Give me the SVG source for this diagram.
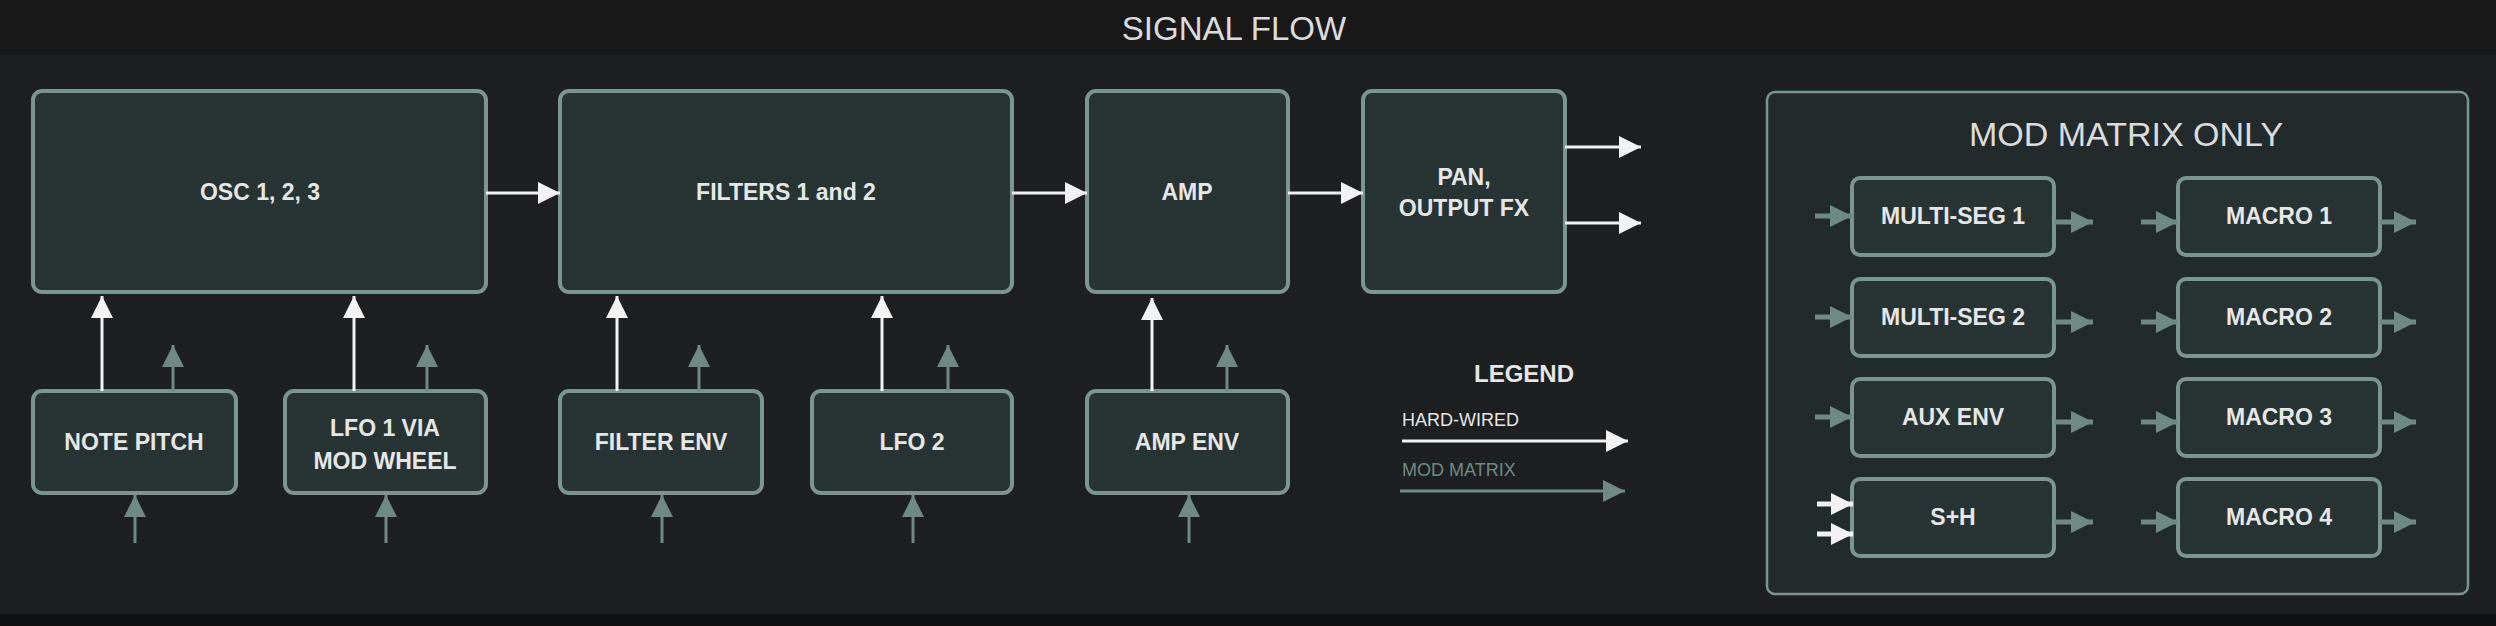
<svg xmlns="http://www.w3.org/2000/svg" width="2496" height="626" viewBox="0 0 2496 626">
<style>
.box{fill:#283334;stroke:#7b958f;stroke-width:4}
.t{font-family:"Liberation Sans",Arial,sans-serif;font-weight:bold;font-size:23px;fill:#e6e6e6;text-anchor:middle;dominant-baseline:central}
.hw{stroke:#f2f2f2;stroke-width:3;fill:none;marker-end:url(#wh)}
.mm{stroke:#6f8a85;stroke-width:3;fill:none;marker-end:url(#gh)}
.mmb{stroke:#6f8a85;stroke-width:5;fill:none;marker-end:url(#gh)}
</style>
<defs>
<marker id="wh" markerUnits="userSpaceOnUse" markerWidth="24" markerHeight="22" refX="22" refY="11" orient="auto"><path d="M0,0 L22,11 L0,22 z" fill="#f2f2f2"/></marker>
<marker id="gh" markerUnits="userSpaceOnUse" markerWidth="24" markerHeight="22" refX="22" refY="11" orient="auto"><path d="M0,0 L22,11 L0,22 z" fill="#6f8a85"/></marker>
</defs>
<rect width="2496" height="626" fill="#1e1f20"/>
<rect width="2496" height="55" fill="#191919"/>
<rect y="614" width="2496" height="12" fill="#111"/>
<text x="1234" y="28" style="font-family:'Liberation Sans',Arial,sans-serif;font-size:33px;fill:#dcdcdc;text-anchor:middle;dominant-baseline:central">SIGNAL FLOW</text>

<g id="osc"><rect class="box" x="33" y="91" width="453" height="201" rx="9"/><text class="t" x="260" y="192">OSC 1, 2, 3</text></g>
<g id="filters"><rect class="box" x="560" y="91" width="452" height="201" rx="9"/><text class="t" x="786" y="192">FILTERS 1 and 2</text></g>
<g id="amp"><rect class="box" x="1087" y="91" width="201" height="201" rx="9"/><text class="t" x="1187" y="192">AMP</text></g>
<g id="pan"><rect class="box" x="1363" y="91" width="202" height="201" rx="9"/><text class="t" x="1464" y="177">PAN,</text><text class="t" x="1464" y="208">OUTPUT FX</text></g>

<g id="notepitch"><rect class="box" x="33" y="391" width="203" height="102" rx="9"/><text class="t" x="134" y="442">NOTE PITCH</text></g>
<g id="lfo1"><rect class="box" x="285" y="391" width="201" height="102" rx="9"/><text class="t" x="385" y="428">LFO 1 VIA</text><text class="t" x="385" y="461">MOD WHEEL</text></g>
<g id="filterenv"><rect class="box" x="560" y="391" width="202" height="102" rx="9"/><text class="t" x="661" y="442">FILTER ENV</text></g>
<g id="lfo2"><rect class="box" x="812" y="391" width="200" height="102" rx="9"/><text class="t" x="912" y="442">LFO 2</text></g>
<g id="ampenv"><rect class="box" x="1087" y="391" width="201" height="102" rx="9"/><text class="t" x="1187" y="442">AMP ENV</text></g>

<g id="legend">
<text x="1524" y="373" class="t" style="font-size:24px">LEGEND</text>
<text x="1402" y="420" style="font-family:'Liberation Sans',Arial,sans-serif;font-size:18px;fill:#e6e6e6;dominant-baseline:central">HARD-WIRED</text>
<text x="1402" y="470" style="font-family:'Liberation Sans',Arial,sans-serif;font-size:18px;fill:#6f8a85;dominant-baseline:central">MOD MATRIX</text>
</g>

<g id="modmatrix">
<rect x="1767" y="92" width="701" height="502" rx="8" fill="#232a2c" stroke="#7b958f" stroke-width="2.5"/>
<text x="2126" y="134" style="font-family:'Liberation Sans',Arial,sans-serif;font-size:34px;fill:#dcdcdc;text-anchor:middle;dominant-baseline:central">MOD MATRIX ONLY</text>
</g>
<g id="ms1"><rect class="box" x="1852" y="178" width="202" height="77" rx="8"/><text class="t" x="1953" y="216">MULTI-SEG 1</text></g>
<g id="ms2"><rect class="box" x="1852" y="279" width="202" height="77" rx="8"/><text class="t" x="1953" y="317">MULTI-SEG 2</text></g>
<g id="auxenv"><rect class="box" x="1852" y="379" width="202" height="77" rx="8"/><text class="t" x="1953" y="417">AUX ENV</text></g>
<g id="sh"><rect class="box" x="1852" y="479" width="202" height="77" rx="8"/><text class="t" x="1953" y="517">S+H</text></g>
<g id="m1"><rect class="box" x="2178" y="178" width="202" height="77" rx="8"/><text class="t" x="2279" y="216">MACRO 1</text></g>
<g id="m2"><rect class="box" x="2178" y="279" width="202" height="77" rx="8"/><text class="t" x="2279" y="317">MACRO 2</text></g>
<g id="m3"><rect class="box" x="2178" y="379" width="202" height="77" rx="8"/><text class="t" x="2279" y="417">MACRO 3</text></g>
<g id="m4"><rect class="box" x="2178" y="479" width="202" height="77" rx="8"/><text class="t" x="2279" y="517">MACRO 4</text></g>

<g id="connectors">
<path class="hw" d="M486,193 H560"/>
<path class="hw" d="M1012,193 H1087"/>
<path class="hw" d="M1288,193 H1363"/>
<path class="hw" d="M1565,147 H1641"/>
<path class="hw" d="M1565,223 H1641"/>
<path class="hw" d="M102,391 V296"/>
<path class="hw" d="M354,391 V296"/>
<path class="hw" d="M617,391 V296"/>
<path class="hw" d="M882,391 V296"/>
<path class="hw" d="M1152,391 V298"/>
<path class="mm" d="M173,391 V345"/>
<path class="mm" d="M427,391 V345"/>
<path class="mm" d="M699,391 V345"/>
<path class="mm" d="M948,391 V345"/>
<path class="mm" d="M1227,391 V345"/>
<path class="mm" d="M135,543 V495"/>
<path class="mm" d="M386,543 V495"/>
<path class="mm" d="M662,543 V495"/>
<path class="mm" d="M913,543 V495"/>
<path class="mm" d="M1189,543 V495"/>
<path class="hw" d="M1402,441 H1628"/>
<path class="mm" d="M1400,491 H1625"/>
<path class="mmb" d="M1815,216 H1852"/>
<path class="mmb" d="M1815,317 H1852"/>
<path class="mmb" d="M1815,417 H1852"/>
<path class="hw" style="stroke-width:5" d="M1817,504 H1853"/>
<path class="hw" style="stroke-width:5" d="M1817,534 H1853"/>
<path class="mmb" d="M2054,222 H2093"/>
<path class="mmb" d="M2054,322 H2093"/>
<path class="mmb" d="M2054,422 H2093"/>
<path class="mmb" d="M2054,522 H2093"/>
<path class="mmb" d="M2141,222 H2178"/>
<path class="mmb" d="M2141,322 H2178"/>
<path class="mmb" d="M2141,422 H2178"/>
<path class="mmb" d="M2141,522 H2178"/>
<path class="mmb" d="M2380,222 H2416"/>
<path class="mmb" d="M2380,322 H2416"/>
<path class="mmb" d="M2380,422 H2416"/>
<path class="mmb" d="M2380,522 H2416"/>
</g>
</svg>
